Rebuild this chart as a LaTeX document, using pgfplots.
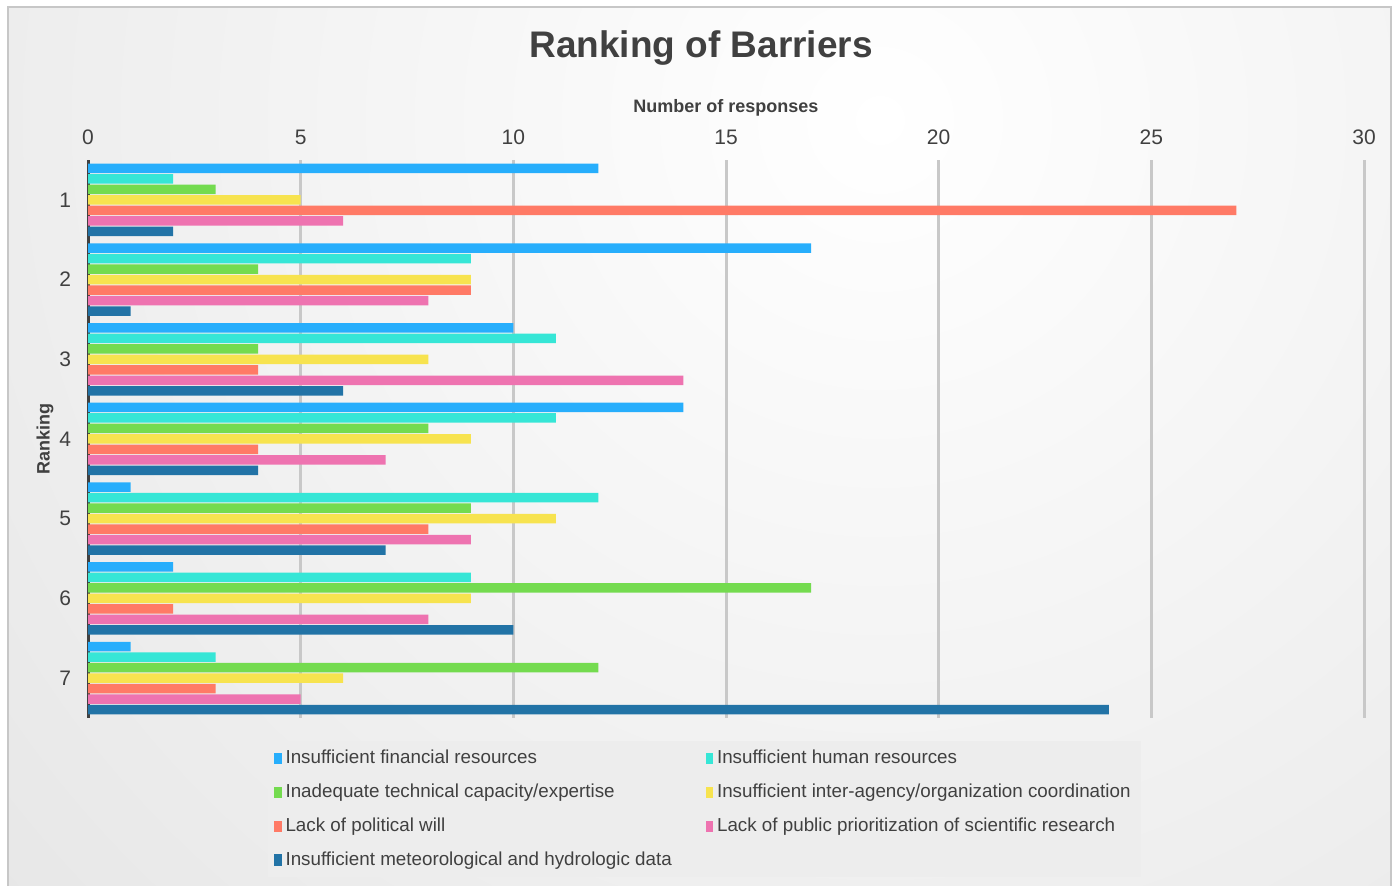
\documentclass[border=0pt]{standalone}
\usepackage{fontspec}
\setmainfont{Liberation Sans}
\usepackage{pgfplots}
\pgfplotsset{compat=1.18}

\definecolor{cfin}{HTML}{27AEFC}
\definecolor{chum}{HTML}{36E6D6}
\definecolor{ctec}{HTML}{74DB4F}
\definecolor{ccoo}{HTML}{F7E34F}
\definecolor{cpol}{HTML}{FF7A66}
\definecolor{cpub}{HTML}{EE73B0}
\definecolor{cdat}{HTML}{2273A6}
\definecolor{txt}{HTML}{404040}
\definecolor{gridc}{HTML}{C8C8C8}
\definecolor{legbg}{HTML}{EDEDED}

\begin{document}
\begin{tikzpicture}
\useasboundingbox (0,0) rectangle (699.5pt,-443pt);
\fill[white] (0,0) rectangle (699.5pt,-443pt);
\begin{scope}
  \clip (4pt,-3.5pt) rectangle (695.5pt,-443pt);
  \shade[inner color=white, outer color=black!16] (440pt,-60pt) circle (1000pt);
\end{scope}
\draw[black!22, line width=0.8pt] (4pt,-3.5pt) rectangle (695.5pt,-445pt);

\node[font=\fontsize{18.5}{22}\selectfont\bfseries, text=txt] at (350.5pt,-24pt) {Ranking of Barriers};

\begin{axis}[
  at={(44pt,-80pt)}, anchor=north west,
  width=638pt, height=279pt, scale only axis,
  xbar, bar width=4.75pt,
  xmin=0, xmax=30, ymin=0.5, ymax=7.5, y dir=reverse,
  xtick={0,5,...,30}, ytick={1,...,7},
  axis x line*=top, axis y line*=left,
  x axis line style={draw=none},
  y axis line style={draw=txt, line width=1.5pt, -},
  major tick length=0pt,
  xmajorgrids, major grid style={draw=gridc, line width=1.5pt},
  tick label style={font=\fontsize{10.5}{12}\selectfont, text=txt},
  /pgf/number format/assume math mode=true,
  xticklabel style={yshift=4pt},
  yticklabel style={xshift=-5pt},
  xlabel={Number of responses},
  xlabel style={font=\fontsize{9}{11}\selectfont\bfseries, text=txt, at={(axis description cs:0.5,1)}, anchor=center, yshift=26pt},
  ylabel={Ranking},
  ylabel style={font=\fontsize{9}{11}\selectfont\bfseries, text=txt, at={(axis description cs:0,0.5)}, anchor=center, yshift=21.5pt},
  legend columns=2,
  legend cell align=left,
  legend image code/.code={\fill[#1, draw=none] (0pt,-2.8pt) rectangle (3.6pt,2.8pt);},
  legend style={at={(0.141,-0.041)}, anchor=north west, fill=legbg, draw=none,
    font=\fontsize{9.4}{11}\selectfont, text=txt, row sep=4.6pt, inner xsep=3pt, inner ysep=2.5pt,
    /tikz/column 2/.style={column sep=15pt}},
]
\addplot[fill=cfin, draw=none, bar shift=15.75pt] coordinates {(12,1) (17,2) (10,3) (14,4) (1,5) (2,6) (1,7)};
\addplot[fill=chum, draw=none, bar shift=10.5pt] coordinates {(2,1) (9,2) (11,3) (11,4) (12,5) (9,6) (3,7)};
\addplot[fill=ctec, draw=none, bar shift=5.25pt] coordinates {(3,1) (4,2) (4,3) (8,4) (9,5) (17,6) (12,7)};
\addplot[fill=ccoo, draw=none, bar shift=0pt] coordinates {(5,1) (9,2) (8,3) (9,4) (11,5) (9,6) (6,7)};
\addplot[fill=cpol, draw=none, bar shift=-5.25pt] coordinates {(27,1) (9,2) (4,3) (4,4) (8,5) (2,6) (3,7)};
\addplot[fill=cpub, draw=none, bar shift=-10.5pt] coordinates {(6,1) (8,2) (14,3) (7,4) (9,5) (8,6) (5,7)};
\addplot[fill=cdat, draw=none, bar shift=-15.75pt] coordinates {(2,1) (1,2) (6,3) (4,4) (7,5) (10,6) (24,7)};
\legend{Insufficient financial resources, Insufficient human resources,
  Inadequate technical capacity/expertise, Insufficient inter-agency/organization coordination,
  Lack of political will, Lack of public prioritization of scientific research,
  Insufficient meteorological and hydrologic data}
\end{axis}
\end{tikzpicture}
\end{document}
